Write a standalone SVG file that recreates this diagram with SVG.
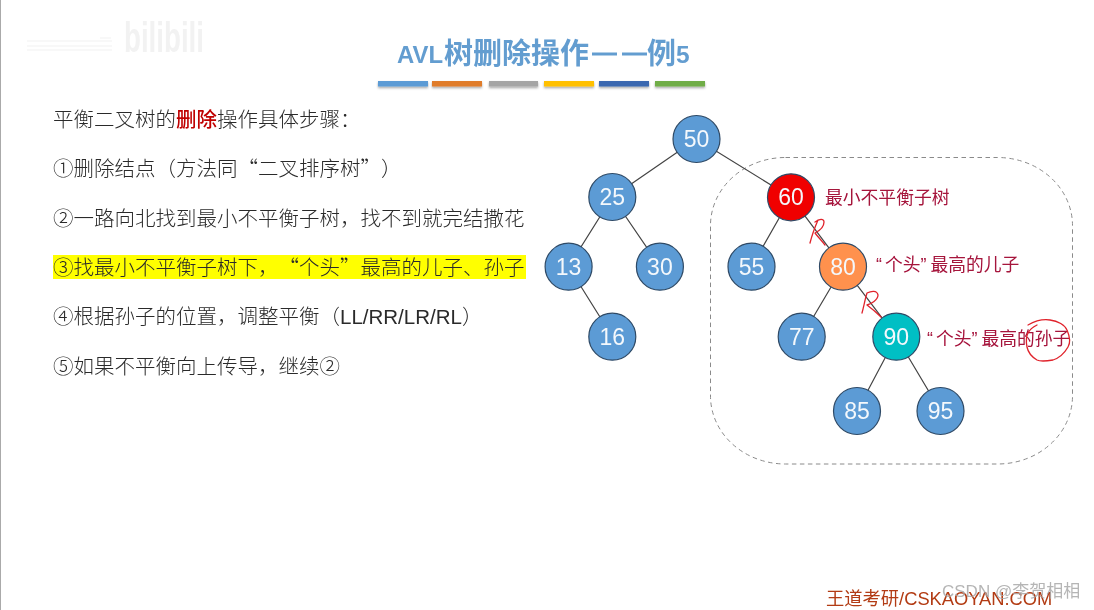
<svg xmlns="http://www.w3.org/2000/svg" width="1094" height="610" viewBox="0 0 1094 610">
<style>
text{font-family:"Liberation Sans","Noto Sans CJK SC",sans-serif;text-spacing-trim:space-all}
.step{font-family:"Noto Sans CJK SC",sans-serif;font-size:20.5px;fill:#2a2a2a;font-weight:300}
.ann{font-size:17.8px;fill:#a5123a}
.n circle{stroke:#2f4a66;stroke-width:1.2;fill:#5b9bd5}
.n text{font-size:23px;fill:#f4f8fc;text-anchor:middle}
.edge{stroke:#444;stroke-width:1.2;fill:none}
.ink{stroke:#e0242c;stroke-width:1.3;fill:none;stroke-linecap:round;stroke-linejoin:round}
.bar{filter:url(#sh)}
.ttl{font-family:"Noto Sans CJK SC",sans-serif;font-size:29px;font-weight:700;fill:#649dd0}
.ttl-latin{font-family:"Liberation Sans",sans-serif;font-size:24.5px;font-weight:700;fill:#649dd0}
</style>
<defs>
<filter id="sh" x="-10%" y="-60%" width="120%" height="260%"><feDropShadow dx="0" dy="1.5" stdDeviation="1" flood-color="#000" flood-opacity="0.35"/></filter>
<filter id="soft" x="0" y="0" width="100%" height="100%"><feGaussianBlur stdDeviation="0.4"/></filter>
</defs>
<rect width="1094" height="610" fill="#fff"/>
<g filter="url(#soft)">
<rect x="0" y="0" width="1" height="610" fill="#aaa"/>
<g id="watermark">
<text x="124" y="52" font-size="42" font-weight="700" fill="#f2f2f2" textLength="80" lengthAdjust="spacingAndGlyphs">bilibili</text>
<path d="M27 41H112M27 46H112M27 50H112M100 38H111" stroke="#f6f6f6" stroke-width="1.5"/>
</g>
<g id="title">
<text class="ttl-latin" x="397" y="63" textLength="46" lengthAdjust="spacingAndGlyphs">AVL</text>
<text class="ttl" x="444" y="64">树删除操作</text>
<rect x="592" y="52.5" width="25" height="3" fill="#649dd0"/>
<rect x="622" y="52.5" width="25" height="3" fill="#649dd0"/>
<text class="ttl" x="647" y="64">例<tspan class="ttl-latin" dy="-1">5</tspan></text>
<g class="bar">
<rect x="378" y="81" width="50" height="5.5" fill="#5b9bd5"/>
<rect x="432" y="81" width="50" height="5.5" fill="#e07b2c"/>
<rect x="489" y="81" width="49" height="5.5" fill="#a5a5a5"/>
<rect x="544" y="81" width="50" height="5.5" fill="#ffc000"/>
<rect x="599" y="81" width="50" height="5.5" fill="#3b68b0"/>
<rect x="655" y="81" width="50" height="5.5" fill="#70ad47"/>
</g>
</g>
<g id="steps">
<rect x="53" y="255" width="473" height="24" fill="#ffff00"/>
<text class="step" x="53" y="127">平衡二叉树的<tspan fill="#c00000" font-weight="500">删除</tspan>操作具体步骤：</text>
<text class="step" x="53" y="176">①删除结点（方法同“二叉排序树”）</text>
<text class="step" x="53" y="226">②一路向北找到最小不平衡子树，找不到就完结撒花</text>
<text class="step" x="53" y="275">③找最小不平衡子树下，“个头”最高的儿子、孙子</text>
<text class="step" x="53" y="324">④根据孙子的位置，调整平衡（<tspan style="font-family:'Liberation Sans'" font-weight="400">LL/RR/LR/RL</tspan>）</text>
<text class="step" x="53" y="374">⑤如果不平衡向上传导，继续②</text>
</g>
<rect id="subtree-outline" x="710.5" y="157.5" width="362" height="306.5" rx="75" ry="68" fill="none" stroke="#8a8a8a" stroke-width="1" stroke-dasharray="4.5 3.5"/>
<g id="connectors">
<path class="edge" d="M696.5 139L612.3 197M696.5 139L791 197.3M612.3 197L568.6 266.7M612.3 197L659.9 266.7M568.6 266.7L612.3 336.7M791 197.3L751.5 266.7M791 197.3L843 266.7M843 266.7L801.7 336.7M843 266.7L896.3 336.7M896.3 336.7L857 411M896.3 336.7L940.5 411"/>
</g>
<g id="n50" class="n"><circle cx="696.5" cy="139" r="23.5"/><text x="696.5" y="147">50</text></g>
<g id="n25" class="n"><circle cx="612.3" cy="197" r="23.5"/><text x="612.3" y="205">25</text></g>
<g id="n60" class="n"><circle cx="791" cy="197.3" r="23.5" style="fill:#f00000"/><text x="791" y="205.3">60</text></g>
<g id="n13" class="n"><circle cx="568.6" cy="266.7" r="23.5"/><text x="568.6" y="274.7">13</text></g>
<g id="n30" class="n"><circle cx="659.9" cy="266.7" r="23.5"/><text x="659.9" y="274.7">30</text></g>
<g id="n55" class="n"><circle cx="751.5" cy="266.7" r="23.5"/><text x="751.5" y="274.7">55</text></g>
<g id="n80" class="n"><circle cx="843" cy="266.7" r="23.5" style="fill:#ff914d"/><text x="843" y="274.7">80</text></g>
<g id="n16" class="n"><circle cx="612.3" cy="336.7" r="23.5"/><text x="612.3" y="344.7">16</text></g>
<g id="n77" class="n"><circle cx="801.7" cy="336.7" r="23.5"/><text x="801.7" y="344.7">77</text></g>
<g id="n90" class="n"><circle cx="896.3" cy="336.7" r="23.5" style="fill:#00bfc4"/><text x="896.3" y="344.7">90</text></g>
<g id="n85" class="n"><circle cx="857" cy="411" r="23.5"/><text x="857" y="419">85</text></g>
<g id="n95" class="n"><circle cx="940.5" cy="411" r="23.5"/><text x="940.5" y="419">95</text></g>
<g id="annotations">
<text class="ann" x="825" y="204">最小不平衡子树</text>
<text class="ann" x="876" y="271">“<tspan dx="3">个头</tspan>”<tspan dx="4">最高的儿子</tspan></text>
<text class="ann" x="927" y="345">“<tspan dx="3">个头</tspan>”<tspan dx="4">最高的孙子</tspan></text>
</g>
<g id="handwriting">
<path class="ink" d="M810 243C812 235 815 227 818 220M815 222C819 219 824 218 824 222C824 227 819 231 815 233C818 237 822 241 825 245"/>
<path class="ink" d="M862 313C864 306 865 299 867 293C871 291 877 290 878 295C878 300 871 304 867 305C871 308 876 312 881 317"/>
<path class="ink" d="M1028 325C1035 321 1043 319 1050 320C1058 321 1065 325 1067 330C1070 337 1071 342 1068 347C1064 354 1059 358 1053 360C1047 361 1041 362 1037 360C1032 357 1028 352 1027 347C1026 342 1026 337 1028 333C1030 329 1033 327 1037 325"/>
</g>
<g id="footer">
<text x="826" y="605" font-size="18.3" fill="#b23a12">王道考研/CSKAOYAN.COM</text>
<text x="942" y="597" font-size="17" fill="#a8a8a8" fill-opacity="0.85">CSDN @李贺相相</text>
</g>
</g>
</svg>
